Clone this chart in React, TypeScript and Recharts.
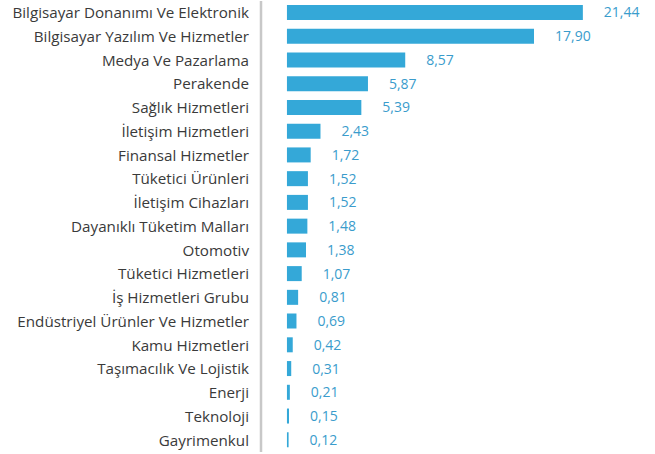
import { BarChart, Bar, XAxis, YAxis, LabelList } from "recharts";

const sectors = [
  "Bilgisayar Donanımı Ve Elektronik",
  "Bilgisayar Yazılım Ve Hizmetler",
  "Medya Ve Pazarlama",
  "Perakende",
  "Sağlık Hizmetleri",
  "İletişim Hizmetleri",
  "Finansal Hizmetler",
  "Tüketici Ürünleri",
  "İletişim Cihazları",
  "Dayanıklı Tüketim Malları",
  "Otomotiv",
  "Tüketici Hizmetleri",
  "İş Hizmetleri Grubu",
  "Endüstriyel Ürünler Ve Hizmetler",
  "Kamu Hizmetleri",
  "Taşımacılık Ve Lojistik",
  "Enerji",
  "Teknoloji",
  "Gayrimenkul",
];

const shares = [
  21.44, 17.9, 8.57, 5.87, 5.39, 2.43, 1.72, 1.52, 1.52, 1.48, 1.38, 1.07, 0.81,
  0.69, 0.42, 0.31, 0.21, 0.15, 0.12,
];

const data = sectors.map((name, i) => ({ name, value: shares[i] }));

const fmt = (v: number) => v.toFixed(2).replace(".", ",");

export default function App() {
  return (
    <div style={{ position: "absolute", left: 0, top: 0, background: "#fff" }}>
      <BarChart
        width={655}
        height={454}
        data={data}
        layout="vertical"
        margin={{ top: 1, right: 15, bottom: 2, left: 0 }}
      >
        <XAxis
          type="number"
          hide
          domain={[-1.88, 25.58]}
          allowDataOverflow
        />
        <YAxis
          type="category"
          dataKey="name"
          width={261}
          interval={0}
          tickLine={false}
          tickMargin={6}
          axisLine={{ stroke: "#c8c8c8", strokeWidth: 2.5 }}
          tick={{ fontSize: 15.2, fill: "#3a3a3a", fontFamily: "Open Sans" }}
        />
        <Bar
          dataKey="value"
          fill="#34a8d8"
          barSize={15}
          isAnimationActive={false}
        >
          <LabelList
            dataKey="value"
            position="right"
            offset={21}
            formatter={(v: number) => fmt(v)}
            style={{ fontSize: 14, fill: "#3a9ccc", fontFamily: "Open Sans" }}
          />
        </Bar>
      </BarChart>
    </div>
  );
}
